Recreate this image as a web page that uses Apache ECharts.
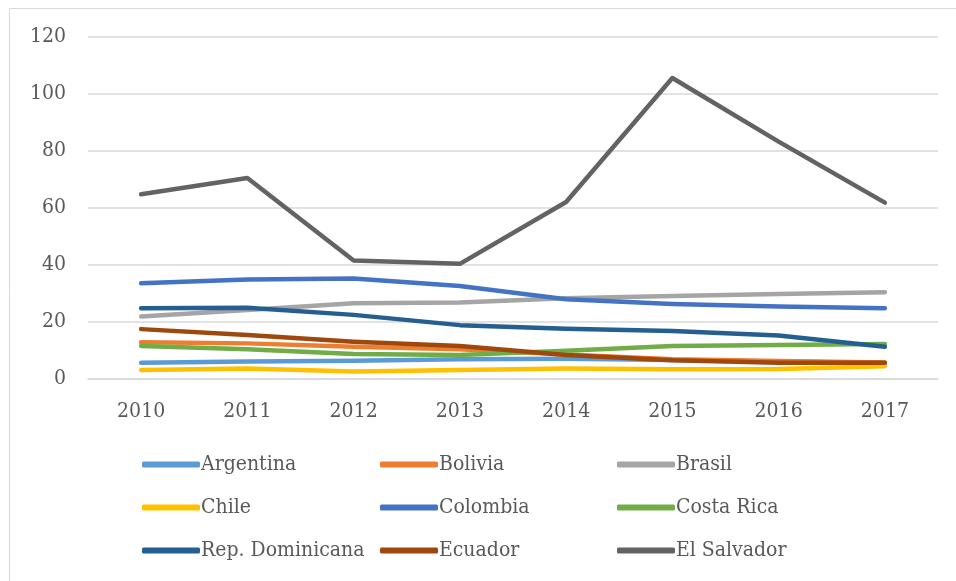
<!DOCTYPE html>
<html><head><meta charset="utf-8">
<script src="https://cdn.jsdelivr.net/npm/echarts@6/dist/echarts.min.js"></script>
<style>html,body{margin:0;padding:0;background:#fff}#c{width:956px;height:581px}</style>
</head><body><div id="c"></div>
<script>
const years = ['2010','2011','2012','2013','2014','2015','2016','2017'];
const argentina = [5.7, 6.1, 6.4, 6.9, 7.1, 6.7, 6.1, 5.6];
const bolivia = [12.9, 12.5, 11.3, 10.4, 8.6, 6.9, 6.3, 5.8];
const brasil = [21.9, 24.2, 26.6, 26.8, 28.3, 29.1, 29.8, 30.4];
const chile = [3.2, 3.7, 2.6, 3.2, 3.7, 3.4, 3.5, 4.5];
const colombia = [33.6, 34.9, 35.3, 32.6, 28.0, 26.3, 25.4, 24.8];
const costaRica = [11.6, 10.4, 8.8, 8.4, 9.9, 11.6, 11.9, 12.3];
const repDominicana = [24.8, 25.0, 22.5, 18.9, 17.6, 16.8, 15.3, 11.3];
const ecuador = [17.5, 15.4, 13.1, 11.6, 8.4, 6.6, 5.7, 5.7];
const elSalvador = [64.8, 70.5, 41.6, 40.4, 62.1, 105.6, 83.3, 61.9];
const yTicks = [0, 20, 40, 60, 80, 100, 120];

const names = ['Argentina','Bolivia','Brasil','Chile','Colombia','Costa Rica','Rep. Dominicana','Ecuador','El Salvador'];
const datas = [argentina, bolivia, brasil, chile, colombia, costaRica, repDominicana, ecuador, elSalvador];
const colors = ['#5B9BD5','#ED7D31','#A5A5A5','#FFC000','#4472C4','#70AD47','#255E91','#9E480E','#636363'];
const FONT = '"DejaVu Serif Condensed", "DejaVu Serif", serif';

const legendBase = {
  orient: 'vertical', top: 449, itemGap: 22, itemWidth: 58, itemHeight: 6,
  icon: 'roundRect', selectedMode: false,
  textStyle: {fontFamily: FONT, fontSize: 21, color: '#595959', padding: [0,0,0,-4]}
};
const chart = echarts.init(document.getElementById('c'));
chart.setOption({
  animation: false,
  backgroundColor: '#fff',
  color: colors,
  graphic: [{type: 'rect', shape: {x: 9.5, y: 8.5, width: 960, height: 600},
    style: {fill: 'none', stroke: '#d9d9d9', lineWidth: 1}, silent: true}],
  grid: {left: 88, right: 18, top: 37, bottom: 202, containLabel: false},
  legend: [
    Object.assign({}, legendBase, {left: 137, data: [names[0], names[3], names[6]]}),
    Object.assign({}, legendBase, {left: 375, data: [names[1], names[4], names[7]]}),
    Object.assign({}, legendBase, {left: 612, data: [names[2], names[5], names[8]]})
  ],
  xAxis: {
    type: 'category', data: years, boundaryGap: true,
    axisLine: {lineStyle: {color: '#d9d9d9', width: 1.5}},
    axisTick: {show: false},
    axisLabel: {fontFamily: FONT, fontSize: 21, color: '#595959', margin: 22}
  },
  yAxis: {
    type: 'value', min: yTicks[0], max: yTicks[yTicks.length-1], interval: 20,
    axisLine: {show: false}, axisTick: {show: false},
    splitLine: {lineStyle: {color: '#d9d9d9', width: 1.5}},
    axisLabel: {fontFamily: FONT, fontSize: 21, color: '#595959', margin: 22}
  },
  series: names.map((n, i) => ({
    name: n, type: 'line', data: datas[i], symbol: 'none',
    lineStyle: {width: 4.5, color: colors[i], cap: 'round', join: 'round'},
    itemStyle: {color: colors[i]}, z: 2 + i
  }))
});
</script></body></html>
